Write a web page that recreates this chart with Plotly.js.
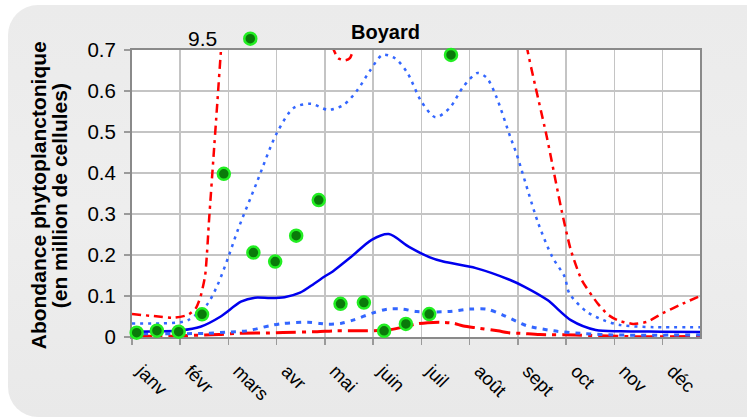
<!DOCTYPE html>
<html>
<head>
<meta charset="utf-8">
<script src="https://cdn.plot.ly/plotly-3.0.1.min.js"></script>
<style>
  html, body { margin: 0; padding: 0; background: #ffffff; overflow: hidden; }
  #wrap { position: relative; width: 747px; height: 419px; overflow: hidden; background: #ffffff; }
  #bg { position: absolute; left: 8px; top: 5px; width: 780px; height: 412px; border-radius: 30px;
        background: linear-gradient(180deg, #ebebeb 0%, #eeeeee 50%, #e9e9e9 100%); }
  #chart { position: absolute; left: 0; top: 0; width: 747px; height: 419px; }
</style>
</head>
<body>
<div id="wrap"><div id="bg"></div><div id="chart"></div></div>
<script>
// Month tick labels (x axis in day of year, gridline every 31 days)
const months = ['janv','févr','mars','avr','mai','juin','juil','août','sept','oct','nov','déc'];
const monthTickDays = [0,31,62,93,124,155,186,217,248,279,310,341];

// Solid blue line
const medianDays = [0, 18, 31, 44, 57, 70, 79, 89, 98, 108, 117, 124, 129, 141, 154, 165, 178, 191, 200, 221, 243, 252, 267, 282, 298, 314, 340, 365];
const medianVals = [0.013, 0.014, 0.016, 0.025, 0.05, 0.086, 0.096, 0.095, 0.097, 0.108, 0.13, 0.148, 0.16, 0.196, 0.237, 0.251, 0.22, 0.195, 0.184, 0.168, 0.139, 0.123, 0.09, 0.041, 0.017, 0.014, 0.013, 0.012];

// Upper blue dotted line
const upperBlueDays = [0, 18, 31, 36, 48, 55, 62, 68, 80, 93, 104, 115, 126, 136, 145, 153, 161, 169, 177, 186, 195, 204, 213, 222, 228, 234, 243, 247, 261, 270, 278, 281, 292, 303, 314, 335, 365];
const upperBlueVals = [0.033, 0.033, 0.036, 0.041, 0.078, 0.127, 0.196, 0.261, 0.375, 0.497, 0.559, 0.569, 0.554, 0.566, 0.603, 0.65, 0.688, 0.68, 0.644, 0.574, 0.536, 0.558, 0.611, 0.644, 0.632, 0.587, 0.489, 0.448, 0.278, 0.196, 0.147, 0.107, 0.062, 0.041, 0.029, 0.024, 0.024];

// Lower blue dotted line
const lowerBlueDays = [0, 31, 48, 61, 74, 89, 97, 113, 121, 126, 134, 142, 155, 164, 174, 183, 203, 217, 228, 238, 249, 254, 271, 288, 309, 365];
const lowerBlueVals = [0.008, 0.008, 0.009, 0.012, 0.015, 0.028, 0.033, 0.036, 0.033, 0.031, 0.033, 0.041, 0.059, 0.068, 0.068, 0.062, 0.062, 0.068, 0.068, 0.054, 0.035, 0.027, 0.015, 0.009, 0.005, 0.005];

// Upper red dash-dot line (goes off scale)
const upperRedDays = [0, 14, 27, 36, 41, 44, 47, 49.6, 52.2, 54.8, 57.4, 62, 90, 120, 126, 128, 132.5, 137, 140, 143.4, 150, 200, 248, 254, 266.5, 276, 282, 289, 299, 306, 312, 322, 331, 341, 352, 365];
const upperRedVals = [0.056, 0.051, 0.047, 0.054, 0.07, 0.098, 0.15, 0.29, 0.43, 0.57, 0.71, 0.9, 1.5, 0.95, 0.78, 0.717, 0.68, 0.675, 0.68, 0.717, 0.85, 1.2, 0.85, 0.702, 0.489, 0.31, 0.212, 0.139, 0.083, 0.054, 0.041, 0.032, 0.037, 0.058, 0.078, 0.10];

// Lower red dash-dot line
const lowerRedDays = [0, 25, 33, 47, 56, 69, 88, 97, 119, 130, 148, 160, 166, 175, 183, 190, 198, 206, 213, 222, 235, 243, 250, 262, 285, 300, 320, 365];
const lowerRedVals = [0.002, 0.002, 0.003, 0.005, 0.006, 0.009, 0.010, 0.011, 0.013, 0.015, 0.015, 0.016, 0.018, 0.025, 0.032, 0.035, 0.036, 0.034, 0.027, 0.022, 0.015, 0.010, 0.009, 0.006, 0.005, 0.003, 0.001, 0.001];

// Observations (green markers)
const obsDays = [3, 16, 30, 45, 59, 76, 78, 92, 105.5, 120, 134, 149, 162, 176, 191, 205];
const obsVals = [0.0105, 0.0154, 0.0129, 0.0554, 0.398, 9.5, 0.206, 0.184, 0.247, 0.334, 0.081, 0.084, 0.015, 0.032, 0.056, 0.688];

const yMax = 0.7;
const offScaleY = 0.7275; // drawn position for off-scale observations (just above the frame)
const obsPlotY = obsVals.map(v => v > yMax ? offScaleY : v);

const FONT = 'Liberation Sans, Arial, sans-serif';

// geometry: full overlay subplot spans 25..337 px, main plot 50..337 px
const mainDomTop = 287 / 312;
const overlayMax = yMax / mainDomTop;

const traces = [
  { x: lowerRedDays, y: lowerRedVals, mode: 'lines', line: { color: '#ff0000', width: 3, dash: '20px,6px,4px,6px', shape: 'spline', smoothing: 0.8 } },
  { x: upperRedDays, y: upperRedVals, mode: 'lines', line: { color: '#ff0000', width: 2.5, dash: '9px,5px,3px,5px', shape: 'spline', smoothing: 0.6 } },
  { x: lowerBlueDays, y: lowerBlueVals, mode: 'lines', line: { color: '#3366ff', width: 3, dash: '5px,6px', shape: 'spline', smoothing: 0.8 } },
  { x: upperBlueDays, y: upperBlueVals, mode: 'lines', line: { color: '#3366ff', width: 2.5, dash: '3px,5px', shape: 'spline', smoothing: 0.8 } },
  { x: medianDays, y: medianVals, mode: 'lines', line: { color: '#0000ee', width: 2.5, shape: 'spline', smoothing: 0.8 } },
  { x: obsDays, y: obsPlotY, xaxis: 'x2', yaxis: 'y2', mode: 'markers', cliponaxis: false,
    marker: { size: 12, color: '#0a7a0a', line: { color: '#22ee22', width: 2.5 } } }
];

const offIdx = obsVals.findIndex(v => v > yMax);

const layout = {
  width: 747, height: 419,
  margin: { l: 132, r: 46.5, t: 25, b: 82, pad: 0 },
  paper_bgcolor: 'rgba(0,0,0,0)',
  plot_bgcolor: 'rgba(0,0,0,0)',
  showlegend: false,
  font: { family: FONT, color: '#000000' },
  xaxis: {
    range: [0, 365], tickmode: 'array', tickvals: monthTickDays, ticktext: months,
    tickangle: 45, tickfont: { size: 18.5, family: FONT },
    ticklabelshift: 10, ticklabelstandoff: 8,
    showgrid: true, gridcolor: '#c4c4c4', gridwidth: 1.5,
    showline: true, linecolor: '#8a8a8a', linewidth: 2, mirror: true,
    ticks: 'outside', ticklen: 6, tickwidth: 1.5, tickcolor: '#9a9a9a',
    zeroline: false, fixedrange: true, anchor: 'y'
  },
  yaxis: {
    domain: [0, mainDomTop], anchor: 'x',
    range: [0, yMax], tickmode: 'linear', tick0: 0, dtick: 0.1,
    tickfont: { size: 20.5, family: FONT }, ticklabelstandoff: 4,
    showgrid: true, gridcolor: '#c4c4c4', gridwidth: 1.5,
    showline: true, linecolor: '#8a8a8a', linewidth: 2, mirror: true,
    ticks: 'outside', ticklen: 6, tickwidth: 1.5, tickcolor: '#9a9a9a',
    zeroline: false, fixedrange: true
  },
  xaxis2: { range: [0, 365], visible: false, anchor: 'y2', fixedrange: true },
  yaxis2: { domain: [0, 1], range: [0, overlayMax], visible: false, anchor: 'x2', fixedrange: true },
  shapes: [
    { type: 'rect', xref: 'x domain', yref: 'y domain', x0: 0, x1: 1, y0: 0, y1: 1,
      fillcolor: '#ffffff', line: { width: 0 }, layer: 'below' }
  ],
  annotations: [
    { text: '<b>Boyard</b>', xref: 'paper', yref: 'paper', x: 0.446, y: (337 - 32) / 312, xanchor: 'center', yanchor: 'middle',
      showarrow: false, font: { size: 20, family: FONT } },
    { text: '<b>Abondance phytoplanctonique</b>', xref: 'paper', yref: 'paper', x: -0.165, y: (337 - 195) / 312,
      xanchor: 'center', yanchor: 'middle', textangle: -90, showarrow: false, font: { size: 21, family: FONT } },
    { text: '<b>(en million de cellules)</b>', xref: 'paper', yref: 'paper', x: -0.128, y: (337 - 196) / 312,
      xanchor: 'center', yanchor: 'middle', textangle: -90, showarrow: false, font: { size: 21, family: FONT } },
    { text: String(obsVals[offIdx]), x: obsDays[offIdx], y: offScaleY, xref: 'x2', yref: 'y2',
      xanchor: 'right', yanchor: 'middle', xshift: -31, showarrow: false, font: { size: 21, family: FONT } }
  ]
};

Plotly.newPlot('chart', traces, layout, { staticPlot: true, displayModeBar: false });
</script>
</body>
</html>
